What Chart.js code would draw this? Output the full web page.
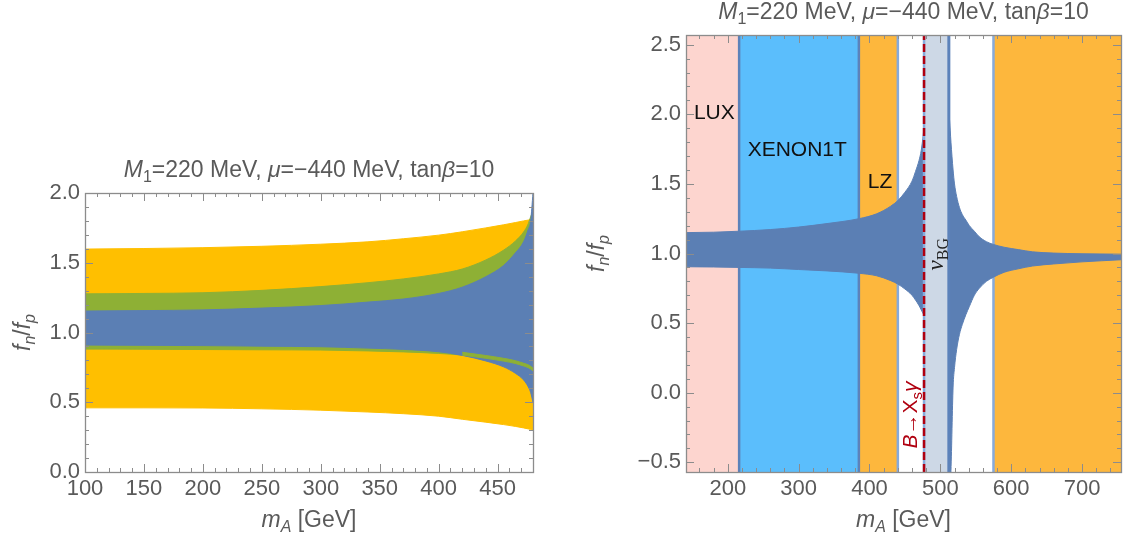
<!DOCTYPE html>
<html>
<head>
<meta charset="utf-8">
<script src="https://cdn.jsdelivr.net/npm/chart.js@4.4.1/dist/chart.umd.min.js"></script>
<style>
  html, body { margin: 0; padding: 0; background: #fff; }
  #wrap { position: relative; width: 1126px; height: 540px; overflow: hidden; }
  #leftChart { position: absolute; left: 0; top: 0; }
  #rightChart { position: absolute; left: 560px; top: 0; }
</style>
</head>
<body>
<div id="wrap">
  <canvas id="leftChart" width="560" height="540"></canvas>
  <canvas id="rightChart" width="566" height="540"></canvas>
</div>
<script>
/**
 * f_n/f_p versus m_A, two panels
 */

// ---- left panel: bands vs m_A ----
const leftMass = [100, 150, 200, 250, 300, 340, 370, 400, 420, 440, 455, 465, 472, 476, 478, 480];
const orangeHi = [1.598, 1.602, 1.608, 1.618, 1.633, 1.650, 1.672, 1.698, 1.722, 1.750, 1.772, 1.788, 1.800, 1.806, 1.810, 1.814];
const orangeLo = [0.460, 0.460, 0.459, 0.453, 0.443, 0.430, 0.418, 0.400, 0.378, 0.357, 0.340, 0.327, 0.316, 0.309, 0.305, 0.300];
const greenHi  = [1.277, 1.280, 1.285, 1.302, 1.329, 1.357, 1.384, 1.420, 1.455, 1.520, 1.590, 1.655, 1.720, 1.780, 1.830, 1.870];
const greenLo  = [0.881, 0.880, 0.878, 0.876, 0.874, 0.868, 0.861, 0.850, 0.838, 0.815, 0.795, 0.778, 0.760, 0.748, 0.738, 0.725];
const blueHi   = [1.154, 1.157, 1.162, 1.175, 1.193, 1.218, 1.240, 1.280, 1.325, 1.400, 1.480, 1.570, 1.650, 1.740, 1.800, 2.000];
const blueLo   = [0.910, 0.908, 0.906, 0.902, 0.898, 0.888, 0.879, 0.862, 0.836, 0.796, 0.754, 0.708, 0.660, 0.610, 0.570, 0.500];
// thin green edge still visible on top of the blue band
const sliverMass = [420, 440, 455, 465, 472, 476, 478, 480];
const sliverLo   = [0.838, 0.815, 0.795, 0.778, 0.760, 0.748, 0.738, 0.725];
const sliverHi   = [0.858, 0.835, 0.815, 0.798, 0.780, 0.768, 0.758, 0.745];

const leftXTicks = [100, 150, 200, 250, 300, 350, 400, 450];
const leftYTicks = [0.0, 0.5, 1.0, 1.5, 2.0];

// ---- right panel: blue band split by the resonance ----
const rightMassLow = [141, 180, 216, 260, 300, 340, 385, 410, 430, 440, 450, 460, 465, 470, 473, 476, 477.5];
const bandLowHi    = [1.150, 1.153, 1.160, 1.172, 1.190, 1.215, 1.250, 1.285, 1.340, 1.380, 1.440, 1.520, 1.590, 1.670, 1.740, 1.860, 1.950];
const bandLowLo    = [0.905, 0.903, 0.900, 0.895, 0.885, 0.875, 0.858, 0.840, 0.805, 0.780, 0.745, 0.700, 0.665, 0.625, 0.595, 0.565, 0.550];
const rightMassHigh = [510, 512, 513, 515, 518, 520, 523, 527, 531, 536, 541, 548, 555, 565, 575, 590, 610, 630, 660, 700, 755];
const bandHighHi    = [2.30, 2.02, 1.96, 1.80, 1.60, 1.50, 1.41, 1.33, 1.28, 1.24, 1.20, 1.16, 1.12, 1.085, 1.065, 1.045, 1.028, 1.012, 1.003, 0.998, 0.995];
const bandHighLo    = [-0.95, -0.85, -0.75, -0.56, 0.04, 0.18, 0.31, 0.42, 0.49, 0.56, 0.62, 0.70, 0.75, 0.80, 0.83, 0.865, 0.89, 0.91, 0.925, 0.94, 0.955];

// excluded / projected regions in m_A
const regionNames = ['LUX', 'XENON1T', 'LZ', ''];
const regionStart = [141, 216, 385, 575];
const regionEnd   = [216, 385, 440, 755];
const nuFloor     = [477, 512];   // neutrino background strip
const bsgLimit    = 477;          // B -> X_s gamma bound
const boundaryMass = [216, 385, 440, 512, 575];

const rightXTicks = [200, 300, 400, 500, 600, 700];
const rightYTicks = [-0.5, 0.0, 0.5, 1.0, 1.5, 2.0, 2.5];

// ---- style ----
const FONT = '"Liberation Sans", Arial, sans-serif';
const SERIF = '"Liberation Serif", "Times New Roman", serif';
const GREY_TEXT = '#5a5a5a';
const FRAME = '#8c8c8c';
const C = {
  orange: '#ffbf00', green: '#8eb035', blue: '#5b7fb4',
  lux: '#fdd5cf', xenon: '#5bbefc', lz: '#fdb73d', nu: '#cdd8e6',
  edgeDark: '#5c82ba', edgeLight: '#86aadb', bsg: '#b00010'
};

function minorTicks(from, to, step) {
  const out = [];
  for (let v = from; v <= to + 1e-9; v += step) out.push(Math.round(v * 1000) / 1000);
  return out;
}

function pts(xs, ys) {
  return xs.map((x, i) => ({ x: x, y: ys[i] }));
}

// filled band between lo and hi (two line datasets, second fills to the first)
function band(xs, lo, hi, color, order) {
  const base = { type: 'line', pointRadius: 0, borderWidth: 1, borderColor: color,
                 cubicInterpolationMode: 'monotone', order: order };
  return [
    Object.assign({}, base, { data: pts(xs, lo), fill: false }),
    Object.assign({}, base, { data: pts(xs, hi), fill: '-1', backgroundColor: color })
  ];
}

function vertical(x, yMin, yMax, color, width, order, dash) {
  return { type: 'line', data: [{ x: x, y: yMin }, { x: x, y: yMax }], borderColor: color,
           borderWidth: width, pointRadius: 0, fill: false, order: order, borderDash: dash || [] };
}

// text with italic / subscript pieces
function richText(ctx, parts, x, y, size, color, rotate, family) {
  const fam = family || FONT;
  const fontOf = p => `${p.i ? 'italic ' : ''}${p.s ? Math.round(size * 0.7) : size}px ${p.f || fam}`;
  let w = 0;
  parts.forEach(p => { ctx.font = fontOf(p); p.w = ctx.measureText(p.t).width; w += p.w; });
  ctx.save();
  ctx.translate(x, y);
  if (rotate) ctx.rotate(rotate);
  ctx.fillStyle = color;
  ctx.textBaseline = 'middle';
  ctx.textAlign = 'left';
  let cx = -w / 2;
  parts.forEach(p => {
    ctx.font = fontOf(p);
    ctx.fillText(p.t, cx, p.s ? size * 0.3 : 0);
    cx += p.w;
  });
  ctx.restore();
}

const titleParts = [
  { t: 'M', i: true }, { t: '1', s: true }, { t: '=220 MeV, ' },
  { t: 'μ', i: true }, { t: '=−440 MeV, tan' }, { t: 'β', i: true }, { t: '=10' }
];
const yTitleParts = [{ t: 'f', i: true }, { t: 'n', i: true, s: true }, { t: '/' }, { t: 'f', i: true }, { t: 'p', i: true, s: true }];
const xTitleParts = [{ t: 'm', i: true }, { t: 'A', i: true, s: true }, { t: ' [GeV]' }];

/**
 * Frame, inward ticks on all four sides, titles
 */
const framePlugin = {
  id: 'frame',
  afterDatasetsDraw(chart, args, opts) {
    const { ctx, chartArea: a, scales: { x, y } } = chart;
    ctx.save();
    ctx.strokeStyle = FRAME;
    ctx.lineWidth = 1;
    const seg = (x1, y1, x2, y2) => { ctx.beginPath(); ctx.moveTo(x1, y1); ctx.lineTo(x2, y2); ctx.stroke(); };
    opts.xMinor.forEach(v => {
      const px = Math.round(x.getPixelForValue(v)) + 0.5;
      const len = opts.xMajor.includes(v) ? 8 : 4;
      seg(px, a.bottom, px, a.bottom - len);
      seg(px, a.top, px, a.top + len);
    });
    opts.yMinor.forEach(v => {
      const py = Math.round(y.getPixelForValue(v)) + 0.5;
      const len = opts.yMajor.some(m => Math.abs(m - v) < 1e-6) ? 8 : 4;
      seg(a.left, py, a.left + len, py);
      seg(a.right, py, a.right - len, py);
    });
    ctx.lineWidth = 1.3;
    ctx.strokeRect(Math.round(a.left) + 0.5, Math.round(a.top) + 0.5, Math.round(a.width), Math.round(a.height));
    ctx.restore();

    const cx = (a.left + a.right) / 2;
    richText(ctx, titleParts, cx, a.top - 22, 23, GREY_TEXT);
    richText(ctx, xTitleParts, cx, 521, 23, GREY_TEXT);
    richText(ctx, yTitleParts, opts.yTitleX, (a.top + a.bottom) / 2, 23, GREY_TEXT, -Math.PI / 2);
  }
};

// region names on the right panel
const notesPlugin = {
  id: 'notes',
  afterDatasetsDraw(chart, args, opts) {
    if (!opts.show) return;
    const { ctx, scales: { x, y } } = chart;
    const at = (m, v) => [x.getPixelForValue(m), y.getPixelForValue(v)];
    let p = at(181, 2.01);
    richText(ctx, [{ t: regionNames[0] }], p[0], p[1], 21, '#111');
    p = at(298, 1.74);
    richText(ctx, [{ t: regionNames[1] }], p[0], p[1], 21, '#111');
    p = at(415, 1.51);
    richText(ctx, [{ t: regionNames[2] }], p[0], p[1], 21, '#111');
    p = at(495.5, 0.995);
    richText(ctx, [{ t: 'ν', i: true, f: SERIF }, { t: 'BG', s: true, f: SERIF }], p[0], p[1], 23, '#222', -Math.PI / 2, SERIF);
    p = at(459, -0.16);
    richText(ctx, [{ t: 'B', i: true }, { t: '→' }, { t: 'X' }, { t: 's', s: true }, { t: 'γ', i: true }], p[0], p[1], 21, C.bsg, -Math.PI / 2);
  }
};

function axes(xMin, xMax, yMin, yMax, xTicks, yTicks, yWidth, yFmt) {
  const tickFont = { family: FONT, size: 22 };
  return {
    x: {
      type: 'linear', min: xMin, max: xMax,
      afterBuildTicks: s => { s.ticks = xTicks.map(v => ({ value: v })); },
      afterFit: s => { s.height = 68; },
      grid: { display: false, drawTicks: false },
      border: { display: false },
      ticks: { font: tickFont, color: GREY_TEXT, padding: 4, maxRotation: 0, autoSkip: false,
               callback: v => String(v) }
    },
    y: {
      type: 'linear', min: yMin, max: yMax,
      afterBuildTicks: s => { s.ticks = yTicks.map(v => ({ value: v })); },
      afterFit: s => { s.width = yWidth; },
      grid: { display: false, drawTicks: false },
      border: { display: false },
      ticks: { font: tickFont, color: GREY_TEXT, padding: 5, autoSkip: false, callback: yFmt }
    }
  };
}

const fmtY = v => (v < 0 ? '−' : '') + Math.abs(v).toFixed(1);

// ---- left chart ----
const leftDatasets = [].concat(
  band(leftMass, orangeLo, orangeHi, C.orange, 40),
  band(leftMass, greenLo, greenHi, C.green, 30),
  band(leftMass, blueLo, blueHi, C.blue, 20),
  band(sliverMass, sliverLo, sliverHi, C.green, 10)
);

new Chart(document.getElementById('leftChart'), {
  type: 'line',
  data: { datasets: leftDatasets },
  options: {
    responsive: false, animation: false, devicePixelRatio: 1,
    layout: { padding: { top: 193, right: 27, left: 0, bottom: 0 } },
    plugins: {
      legend: { display: false }, tooltip: { enabled: false },
      frame: { xMajor: leftXTicks, xMinor: minorTicks(100, 480, 10),
               yMajor: leftYTicks, yMinor: minorTicks(0, 2, 0.1), yTitleX: 24 },
      notes: { show: false }
    },
    scales: axes(100, 480, 0, 2, leftXTicks, leftYTicks, 85, fmtY)
  },
  plugins: [framePlugin, notesPlugin]
});

// ---- right chart ----
const R_YMIN = -0.57, R_YMAX = 2.57;
const rightDatasets = [];
regionStart.forEach((s, i) => {
  const col = [C.lux, C.xenon, C.lz, C.lz][i];
  rightDatasets.push({ type: 'line', data: [{ x: s, y: R_YMAX }, { x: regionEnd[i], y: R_YMAX }],
    fill: 'start', backgroundColor: col, borderWidth: 0, pointRadius: 0, order: 90 });
});
boundaryMass.forEach((m, i) => {
  if (m === nuFloor[1]) return;
  const col = (i === 2 || i === 4) ? C.edgeLight : C.edgeDark;
  rightDatasets.push(vertical(m, R_YMIN, R_YMAX, col, 2.5, 80));
});
rightDatasets.push(...band(rightMassLow, bandLowLo, bandLowHi, C.blue, 60));
rightDatasets.push(...band(rightMassHigh, bandHighLo, bandHighHi, C.blue, 60));
rightDatasets.push({ type: 'line', data: [{ x: nuFloor[0], y: R_YMAX }, { x: nuFloor[1], y: R_YMAX }],
  fill: 'start', backgroundColor: C.nu, borderWidth: 0, pointRadius: 0, order: 50 });
rightDatasets.push(vertical(nuFloor[1], R_YMIN, R_YMAX, C.edgeDark, 3, 40));
rightDatasets.push(vertical(bsgLimit, R_YMIN, R_YMAX, C.edgeLight, 2.5, 30));
rightDatasets.push(vertical(bsgLimit, R_YMIN, R_YMAX, C.bsg, 2.5, 20, [8, 4]));

new Chart(document.getElementById('rightChart'), {
  type: 'line',
  data: { datasets: rightDatasets },
  options: {
    responsive: false, animation: false, devicePixelRatio: 1,
    layout: { padding: { top: 35, right: 5, left: 0, bottom: 0 } },
    plugins: {
      legend: { display: false }, tooltip: { enabled: false },
      frame: { xMajor: rightXTicks, xMinor: minorTicks(160, 740, 20),
               yMajor: rightYTicks, yMinor: minorTicks(-0.5, 2.5, 0.1), yTitleX: 38 },
      notes: { show: true }
    },
    scales: axes(141, 755, R_YMIN, R_YMAX, rightXTicks, rightYTicks, 126, fmtY)
  },
  plugins: [framePlugin, notesPlugin]
});
</script>
</body>
</html>
